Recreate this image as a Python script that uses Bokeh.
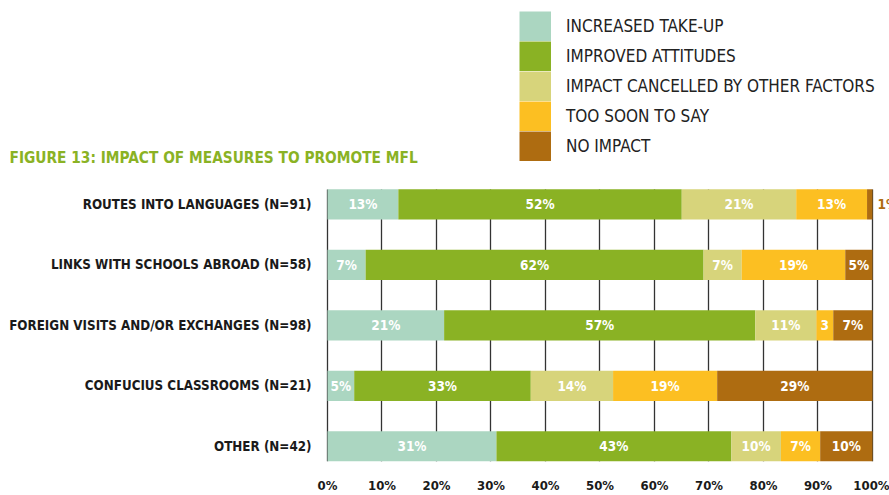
from bokeh.plotting import figure
from bokeh.models import (ColumnDataSource, Range1d, FixedTicker, Grid,
                          PrintfTickFormatter, Legend, LegendItem, Label)
from bokeh.core.properties import value
from bokeh.embed import file_html
from bokeh.resources import INLINE

# ---------------- data ----------------
categories = ["ROUTES INTO LANGUAGES (N=91)",
              "LINKS WITH SCHOOLS ABROAD (N=58)",
              "FOREIGN VISITS AND/OR EXCHANGES (N=98)",
              "CONFUCIUS CLASSROOMS (N=21)",
              "OTHER (N=42)"]
series_names = ["INCREASED TAKE-UP", "IMPROVED ATTITUDES",
                "IMPACT CANCELLED BY OTHER FACTORS", "TOO SOON TO SAY", "NO IMPACT"]
increased = [13, 7, 21.4, 4.9, 31]
improved = [52, 62, 57.1, 32.4, 43.1]
cancelled = [21, 7, 11.2, 15.1, 9.1]
too_soon = [13, 19, 3.1, 19.1, 7.2]
no_impact = [1, 5, 7.2, 28.5, 9.6]

increased_lbl = ["13%", "7%", "21%", "5%", "31%"]
improved_lbl = ["52%", "62%", "57%", "33%", "43%"]
cancelled_lbl = ["21%", "7%", "11%", "14%", "10%"]
too_soon_lbl = ["13%", "19%", "3", "19%", "7%"]
no_impact_lbl = ["", "5%", "7%", "29%", "10%"]
outside_lbl = ["1%", "", "", "", ""]   # NO IMPACT label drawn outside the bar

x_ticks = [0, 10, 20, 30, 40, 50, 60, 70, 80, 90, 100]
title_text = "FIGURE 13: IMPACT OF MEASURES TO PROMOTE MFL"

colors = ["#abd6c1", "#8ab224", "#d7d47b", "#fcbf22", "#ae6c11"]
FONT = "DejaVu Sans Condensed"
BAR_H = 0.5

series = [increased, improved, cancelled, too_soon, no_impact]
labels = [increased_lbl, improved_lbl, cancelled_lbl, too_soon_lbl, no_impact_lbl]
keys = ["s0", "s1", "s2", "s3", "s4"]

n = len(categories)
row_y = [n - 1 - i for i in range(n)]   # first category on top

data = {"cat": categories, "y": row_y}
for k, s in zip(keys, series):
    data[k] = s
source = ColumnDataSource(data)

p = figure(width=889, height=495,
           x_range=Range1d(-60.0, 103.12),
           y_range=Range1d(-0.25, 7.37),
           y_axis_location=None,
           output_backend="svg", toolbar_location=None,
           min_border_left=0, min_border_right=0,
           min_border_top=0, min_border_bottom=34)
p.outline_line_color = None
p.background_fill_color = "white"
p.border_fill_color = "white"

renderers = p.hbar_stack(keys, y="y", height=BAR_H, color=colors, source=source,
                         line_color=None)

# category labels (left of the bars)
p.text(x=[0] * n, y=row_y, text=categories, text_align="right",
       text_baseline="middle", x_offset=-16, text_color="#1a1a1a",
       text_font=value(FONT), text_font_style="bold", text_font_size="13.3px")

# segment labels
lx, ly, lt = [], [], []
for i in range(n):
    start = 0.0
    for s, lab in zip(series, labels):
        v = s[i]
        if lab[i]:
            lx.append(start + v / 2.0)
            ly.append(row_y[i])
            lt.append(lab[i])
        start += v
p.text(x=lx, y=ly, text=lt, text_align="center", text_baseline="middle",
       text_color="white", text_font=value(FONT), text_font_style="bold",
       text_font_size="13.5px")

ox, oy, ot = [], [], []
for i in range(n):
    if outside_lbl[i]:
        ox.append(sum(s[i] for s in series))
        oy.append(row_y[i])
        ot.append(outside_lbl[i])
p.text(x=ox, y=oy, text=ot, text_align="left", text_baseline="middle",
       x_offset=5, text_color=colors[4], text_font=value(FONT),
       text_font_style="bold", text_font_size="13.5px")

# x axis
p.xaxis.ticker = FixedTicker(ticks=x_ticks)
p.xaxis.formatter = PrintfTickFormatter(format="%d%%")
p.xaxis.axis_line_color = None
p.xaxis.major_tick_line_color = None
p.xaxis.minor_tick_line_color = None
p.xaxis.major_label_standoff = 10
p.xaxis.major_label_text_font = FONT
p.xaxis.major_label_text_font_style = "bold"
p.xaxis.major_label_text_font_size = "13px"
p.xaxis.major_label_text_color = "#1a1a1a"

# vertical grid only between the first and last bar
p.ygrid.grid_line_color = None
grid = p.xgrid[0]
grid.grid_line_color = "#333333"
grid.grid_line_width = 1.3
y_lo = min(row_y) - BAR_H / 2
y_hi = max(row_y) + BAR_H / 2
if "cross_bounds" in Grid.properties():
    grid.cross_bounds = (y_lo, y_hi)
else:
    grid.grid_line_color = None
    p.segment(x0=x_ticks, x1=x_ticks, y0=[y_lo] * len(x_ticks), y1=[y_hi] * len(x_ticks),
              line_color="#333333", line_width=1.3, level="underlay")

# legend: full-size contiguous swatches (thick butt-capped line keys,
# each a single zero-length point so nothing is drawn in the plot itself)
SW_H = 30
swatches = [p.line(x=[0], y=[row_y[-1]], line_color=c, line_width=SW_H,
                   line_cap="butt") for c in colors]
items = [LegendItem(label=nm, renderers=[r]) for nm, r in zip(series_names, swatches)]
legend = Legend(items=items, location=(519, 300), padding=0, spacing=0,
                glyph_width=32, glyph_height=SW_H, label_height=SW_H,
                label_standoff=15, label_text_font=FONT,
                label_text_font_size="17px", label_text_color="#222222",
                border_line_color=None, background_fill_alpha=0)
p.add_layout(legend, "center")

# title
p.add_layout(Label(x=9, y=304, x_units="screen", y_units="screen",
                   text=title_text, text_font=FONT, text_font_style="bold",
                   text_font_size="15.3px", text_color="#8ab224",
                   text_baseline="middle", text_align="left"))

open("out.html", "w").write(file_html(p, INLINE))
